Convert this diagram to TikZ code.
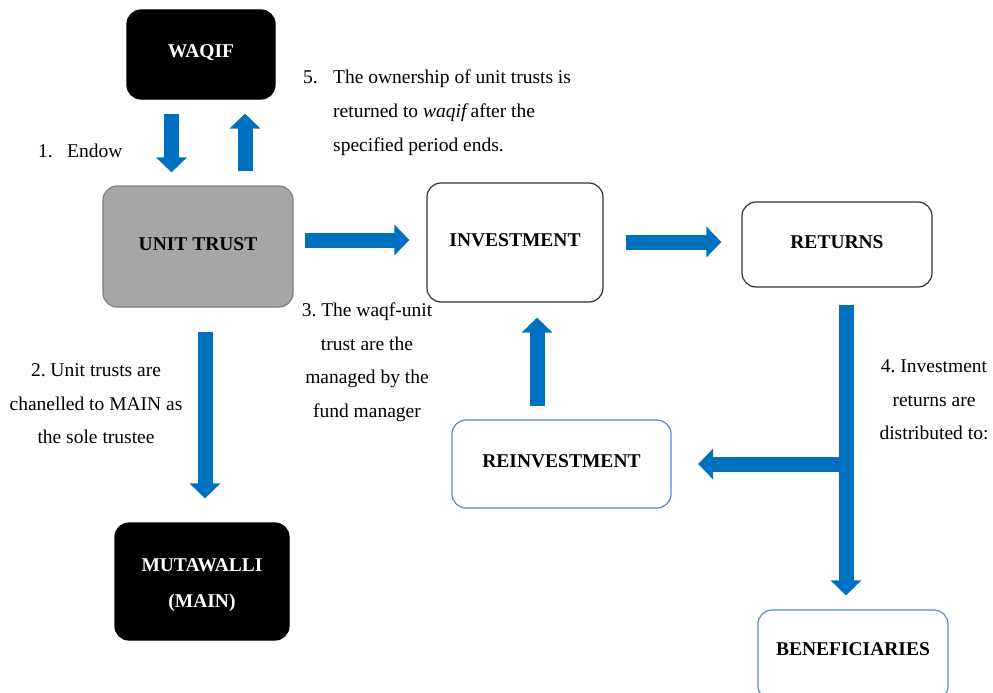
\documentclass[tikz,border=0pt]{standalone}
\usepackage{fontspec}
\setmainfont{Liberation Serif}
\usetikzlibrary{arrows.meta,calc}
\definecolor{flowblue}{HTML}{0070C0}
\definecolor{trustgray}{HTML}{A6A6A6}
\definecolor{trustedge}{HTML}{808080}
\definecolor{softblue}{HTML}{5B86D0}
\frenchspacing
\begin{document}
\begin{tikzpicture}[x=1pt,y=-1pt,
  box/.style={rounded corners=14pt, line width=1.2pt, inner sep=0pt,
    font=\fontsize{19.5}{36}\selectfont\bfseries, align=center},
  oneline/.style={text height=13pt, text depth=6pt},
  darkbox/.style={box, fill=black, draw=black, text=white},
  graybox/.style={box, fill=trustgray, draw=trustedge},
  plainbox/.style={box, fill=white, draw=black!80},
  bluebox/.style={box, fill=white, draw=softblue},
  boxlabel/.style={font=\fontsize{19.5}{36}\selectfont\bfseries, align=center, inner sep=0pt},
  note/.style={font=\fontsize{19.5}{33.5}\selectfont, align=center, inner sep=0pt},
  flow/.style={draw=flowblue, line width=15pt,
    -{Triangle[width=30pt,length=15pt]}, flowblue}
]
\useasboundingbox (0,0) rectangle (993,693);
\begin{scope}
\clip (0,0) rectangle (993,693);

% boxes
\node[darkbox, oneline, minimum width=148pt, minimum height=89pt] (waqif) at (201,54.5) {WAQIF};
\node[graybox, oneline, minimum width=190pt, minimum height=121pt] (unit) at (198,246.5) {UNIT TRUST};
\node[plainbox, oneline, minimum width=176pt, minimum height=119pt] (inv) at (515,242.5) {INVESTMENT};
\node[plainbox, oneline, minimum width=190pt, minimum height=85pt] (ret) at (837,244.5) {RETURNS};
\node[bluebox, oneline, minimum width=219pt, minimum height=88pt] (reinv) at (561.5,464) {REINVESTMENT};
\node[darkbox, minimum width=174pt, minimum height=117pt] (mut) at (202,581.5) {};
\node[boxlabel, text=white] (muttext) at (202,585) {MUTAWALLI\\(MAIN)};
\node[bluebox, minimum width=190pt, minimum height=90pt] (ben) at (853,655) {};
\node[boxlabel, oneline] (bentext) at (853,652) {BENEFICIARIES};

% arrow end points
\coordinate (endowA) at ($(waqif.south)+(-29.5,14)$);
\coordinate (endowB) at ($(unit.north)+(-26.5,-13)$);
\coordinate (backA) at ($(unit.north)+(47,-14)$);
\coordinate (backB) at ($(waqif.south)+(44,14)$);
\coordinate (u2iA) at ($(unit.east)+(11,-6.5)$);
\coordinate (u2iB) at ($(inv.west)+(-17,-2.5)$);
\coordinate (i2rA) at ($(inv.east)+(22,-0.5)$);
\coordinate (i2rB) at ($(ret.west)+(-20,-2.5)$);
\coordinate (u2mA) at ($(unit.south)+(7,24)$);
\coordinate (u2mB) at ($(mut.north)+(3,-24)$);
\coordinate (r2iA) at ($(reinv.north)+(-24.5,-13)$);
\coordinate (r2iB) at ($(inv.south)+(22,15)$);
\coordinate (retA) at ($(ret.south)+(9,17)$);
\coordinate (retB) at ($(ben.north)+(-7,-14)$);
\coordinate (fork) at (846,464);
\coordinate (forkB) at ($(reinv.east)+(26.5,0)$);

% flows
\draw[flow] (endowA) -- (endowB);
\draw[flow] (backA) -- (backB);
\draw[flow] (u2iA) -- (u2iB);
\draw[flow] (i2rA) -- (i2rB);
\draw[flow] (u2mA) -- (u2mB);
\draw[flow] (r2iA) -- (r2iB);
\draw[flow] (retA) -- (retB);
\draw[flow] (fork) -- (forkB);

% step notes
\node[note, anchor=base west] (n1num) at (38,157) {1.};
\node[note, anchor=base west] (n1) at (67,157) {Endow};
\node[note, anchor=base west] (n5num) at (303,83) {5.};
\node[note, anchor=base west] (n5a) at (333,83) {The ownership of unit trusts is};
\node[note, anchor=base west] (n5b) at (333,117.5) {returned to \textit{waqif}\hspace{-0.15em} after the};
\node[note, anchor=base west] (n5c) at (333,151.5) {specified period ends.};
\node[note] (n3) at (367,362) {3. The waqf-unit\\trust are the\\managed by the\\fund manager};
\node[note] (n2) at (96,404) {2. Unit trusts are\\chanelled to MAIN as\\the sole trustee};
\node[note] (n4) at (934,400) {4. Investment\\returns are\\distributed to:};
\end{scope}
\end{tikzpicture}
\end{document}
